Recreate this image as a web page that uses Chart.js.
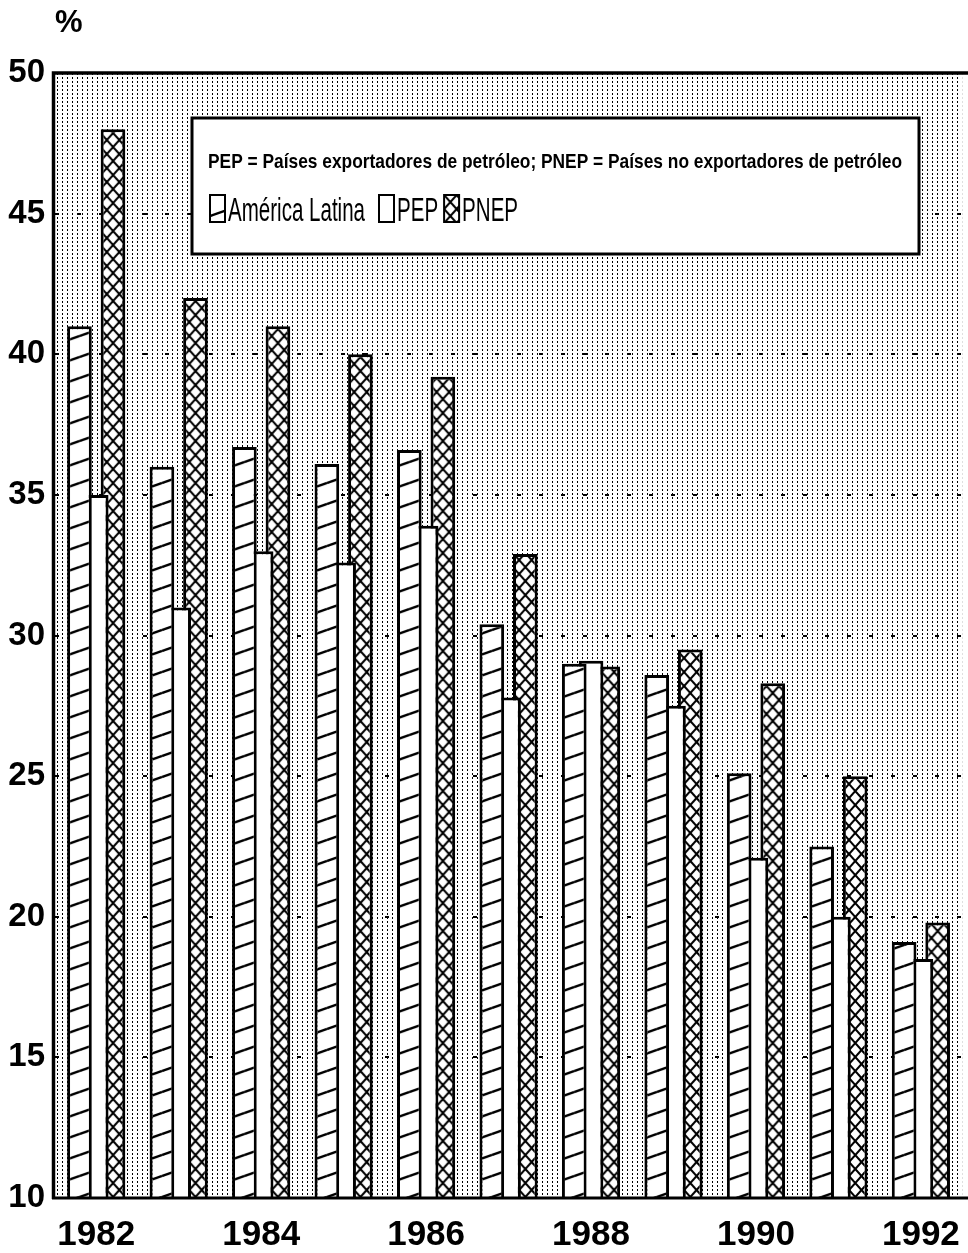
<!DOCTYPE html>
<html>
<head>
<meta charset="utf-8">
<title>América Latina, PEP y PNEP 1982-1992</title>
<style>
  html, body { margin: 0; padding: 0; background: #fff; overflow: hidden; }
  canvas { display: block; }
</style>
<script src="https://cdn.jsdelivr.net/npm/chart.js@4.4.1/dist/chart.umd.min.js"></script>
</head>
<body>
<canvas id="grafico" width="980" height="1253"></canvas>
<script>
// años y series (%)
const years = ['1982', '1983', '1984', '1985', '1986', '1987', '1988', '1989', '1990', '1991', '1992'];
const americaLatina = [41.0, 36.0, 36.7, 36.1, 36.6, 30.4, 29.0, 28.6, 25.1, 22.5, 19.1];
const pep = [35.0, 31.0, 33.0, 32.6, 33.9, 27.8, 29.1, 27.5, 22.1, 20.0, 18.5];
const pnep = [48.0, 42.0, 41.0, 40.0, 39.2, 32.9, 28.9, 29.5, 28.3, 25.0, 19.8];

const yMin = 10;
const yMax = 50;
const yStep = 5;

const seriesNames = ['América Latina', 'PEP', 'PNEP'];
const legendNote = 'PEP = Países exportadores de petróleo; PNEP = Países no exportadores de petróleo';
const unitLabel = '%';

const NARROW = '"Liberation Sans Narrow", "Arial Narrow", "Liberation Sans", Arial, sans-serif';
const CAT_PCT = 0.61;
const BAR_PCT = 1.47;

// --- tramas ---
function tile(w, h, draw) {
  const c = document.createElement('canvas');
  c.width = w; c.height = h;
  const g = c.getContext('2d');
  g.fillStyle = '#fff';
  g.fillRect(0, 0, w, h);
  g.strokeStyle = '#000';
  draw(g, w, h);
  return c;
}

// fondo punteado
const dotTile = tile(5, 4, (g) => {
  g.fillStyle = '#000';
  g.fillRect(2, 1, 1, 2);
});

// rayado diagonal (América Latina)
const diagTile = tile(60, 21, (g, w, h) => {
  g.lineWidth = 2.4;
  for (let k = -1; k <= 1; k++) {
    g.beginPath();
    g.moveTo(0, h + k * h);
    g.lineTo(w, k * h);
    g.stroke();
  }
});

// cuadriculado en X (PNEP)
const crossTile = tile(25, 28, (g) => {
  g.lineWidth = 2;
  const cw = 12.5, ch = 14;
  for (let i = -1; i <= 2; i++) {
    for (let j = -1; j <= 2; j++) {
      const x0 = i * cw, y0 = j * ch;
      g.beginPath();
      g.moveTo(x0, y0); g.lineTo(x0 + cw, y0 + ch);
      g.moveTo(x0 + cw, y0); g.lineTo(x0, y0 + ch);
      g.stroke();
    }
  }
});

const fills = [diagTile, null, crossTile];

function patternAt(ctx, src, dx, dy) {
  const p = ctx.createPattern(src, 'repeat');
  p.setTransform(new DOMMatrix().translate(dx, dy || 0));
  return p;
}

// la trama arranca en cada barra
function hatch(src, phase) {
  return (c) => {
    const ctx = c.chart.ctx;
    if (c.type !== 'data') return patternAt(ctx, src, 0);
    const xs = c.chart.scales.x;
    const slot = xs.width / years.length * CAT_PCT / 3;
    const center = xs.getPixelForValue(c.dataIndex) + (c.datasetIndex - 1) * slot;
    return patternAt(ctx, src, center + phase);
  };
}

function drawFitted(ctx, text, x, y, sx) {
  ctx.save();
  ctx.translate(x, y);
  ctx.scale(sx, 1);
  ctx.fillText(text, 0, 0);
  ctx.restore();
}

const paper = {
  id: 'paper',
  beforeDraw(chart) {
    const { ctx, chartArea: a } = chart;
    ctx.save();
    ctx.fillStyle = ctx.createPattern(dotTile, 'repeat');
    ctx.fillRect(a.left, a.top, a.right - a.left, a.bottom - a.top);
    ctx.restore();
  },
  afterDatasetsDraw(chart) {
    const { ctx, chartArea: a } = chart;
    ctx.save();

    // marco
    ctx.strokeStyle = '#000';
    ctx.lineWidth = 3.5;
    ctx.beginPath();
    ctx.moveTo(a.left - 1.5, a.bottom + 1);
    ctx.lineTo(a.left - 1.5, a.top);
    ctx.lineTo(a.right + 10, a.top);
    ctx.stroke();
    ctx.lineWidth = 3;
    ctx.beginPath();
    ctx.moveTo(a.left - 3, a.bottom);
    ctx.lineTo(a.right + 10, a.bottom);
    ctx.stroke();

    // unidad
    ctx.fillStyle = '#000';
    ctx.font = 'bold 31px ' + NARROW;
    ctx.textBaseline = 'alphabetic';
    ctx.fillText(unitLabel, a.left, 32);

    // leyenda
    const box = { x: a.left + 137, y: a.top + 45, w: 727, h: 136 };
    ctx.fillStyle = '#fff';
    ctx.fillRect(box.x, box.y, box.w, box.h);
    ctx.lineWidth = 3;
    ctx.strokeRect(box.x, box.y, box.w, box.h);

    ctx.fillStyle = '#000';
    ctx.font = 'bold 21px ' + NARROW;
    drawFitted(ctx, legendNote, box.x + 16, box.y + 50, 694 / ctx.measureText(legendNote).width);

    ctx.font = '34px ' + NARROW;
    const sx = 137 / ctx.measureText(seriesNames[0]).width;
    const gaps = [14, 6, 0];
    let x = box.x + 18;
    chart.data.datasets.forEach((ds, i) => {
      const iw = 15, ih = 27, iy = box.y + 77;
      ctx.fillStyle = fills[i] ? patternAt(ctx, fills[i], x, iy) : '#fff';
      ctx.fillRect(x, iy, iw, ih);
      ctx.lineWidth = 2;
      ctx.strokeStyle = '#000';
      ctx.strokeRect(x, iy, iw, ih);
      x += iw + 3;
      ctx.fillStyle = '#000';
      drawFitted(ctx, ds.label, x, box.y + 103, sx);
      x += ctx.measureText(ds.label).width * sx + gaps[i];
    });

    ctx.restore();
  }
};

new Chart(document.getElementById('grafico'), {
  type: 'bar',
  data: {
    labels: years,
    datasets: [
      { label: seriesNames[0], data: americaLatina, backgroundColor: hatch(diagTile, 0) },
      { label: seriesNames[1], data: pep, backgroundColor: '#fff' },
      { label: seriesNames[2], data: pnep, backgroundColor: hatch(crossTile, -6.25) }
    ]
  },
  options: {
    responsive: false,
    animation: false,
    events: [],
    layout: { padding: { top: 73, right: 4, bottom: 0, left: 0 } },
    datasets: {
      bar: {
        categoryPercentage: CAT_PCT,
        barPercentage: BAR_PCT,
        borderColor: '#000',
        borderWidth: 3,
        borderSkipped: 'start'
      }
    },
    plugins: {
      legend: { display: false },
      tooltip: { enabled: false }
    },
    scales: {
      x: {
        afterFit: (scale) => { scale.height = 55; },
        grid: { display: false, drawTicks: false },
        border: { display: false },
        ticks: {
          autoSkip: false,
          maxRotation: 0,
          padding: 20,
          color: '#000',
          font: { family: NARROW, size: 35, weight: 'bold', lineHeight: 1 },
          callback: (v, i) => (i % 2 === 0 ? years[i] : '')
        }
      },
      y: {
        min: yMin,
        max: yMax,
        afterFit: (scale) => { scale.width = 55; },
        grid: { color: '#000', lineWidth: 2, drawTicks: false },
        border: { display: false, dash: [4, 18] },
        ticks: {
          stepSize: yStep,
          padding: 10,
          color: '#000',
          font: { family: NARROW, size: 33, weight: 'bold', lineHeight: 1 }
        }
      }
    }
  },
  plugins: [paper]
});
</script>
</body>
</html>
